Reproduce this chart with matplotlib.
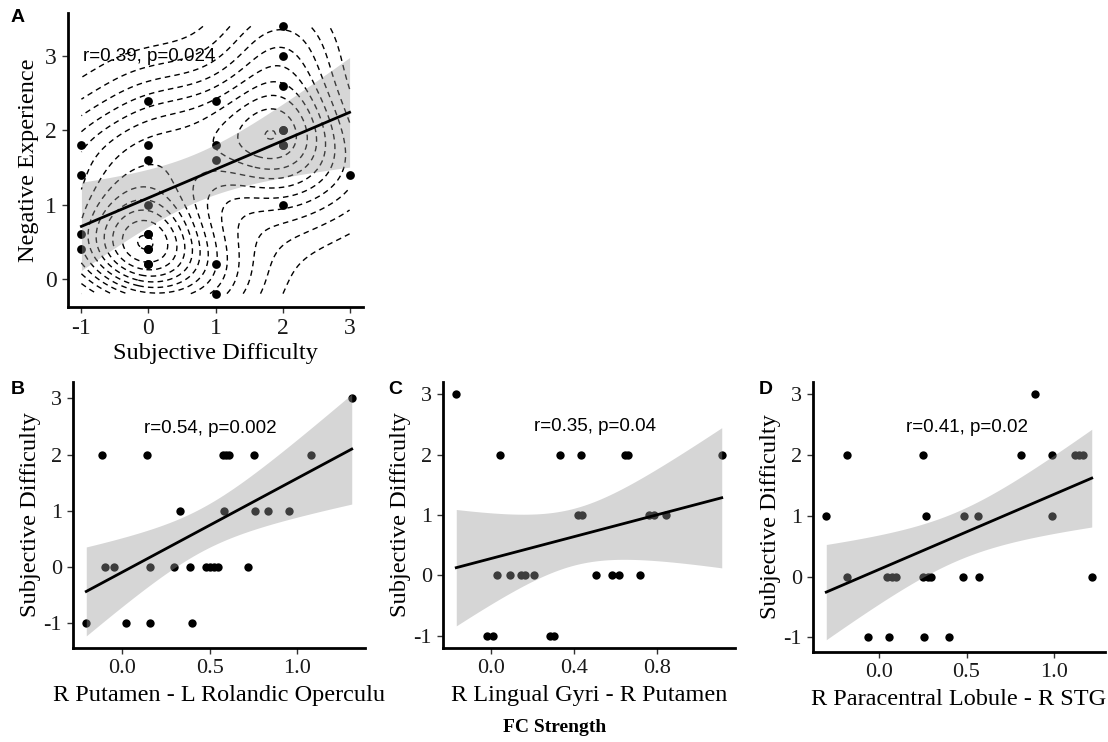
import numpy as np
import matplotlib
matplotlib.use("Agg")
import matplotlib.pyplot as plt
from matplotlib.ticker import MaxNLocator

plt.rcParams["axes.unicode_minus"] = False

# ───── Data ─────────────────────────────────────────────────
# A: subjective difficulty vs negative experience
# (several responses overlap; repeated pairs estimated from the density peaks)
a_x = [-1, -1, -1, -1,
       0, 0, 0, 0, 0, 0, 0, 0, 0, 0,
       1, 1, 1, 1, 1,
       2, 2, 2, 2, 2, 2, 2, 2,
       3]
a_y = [1.8, 1.4, 0.6, 0.4,
       2.4, 1.8, 1.6, 1.0, 0.6, 0.6, 0.4, 0.4, 0.2, 0.2,
       2.4, 1.8, 1.6, 0.2, -0.2,
       3.4, 3.0, 2.6, 2.0, 2.0, 1.8, 1.8, 1.0,
       1.4]

# B: R Putamen - L Rolandic Operculum FC
b_x = [-0.206, -0.114, -0.099, -0.047, 0.019, 0.143, 0.158, 0.158, 0.295,
       0.33, 0.387, 0.396, 0.477, 0.499, 0.524, 0.547, 0.575, 0.581, 0.594,
       0.61, 0.72, 0.753, 0.758, 0.834, 0.953, 1.076, 1.311]
b_y = [-1, 2, 0, 0, -1, 2, 0, -1, 0,
       1, 0, -1, 0, 0, 0, 0, 2, 1, 2,
       2, 0, 2, 1, 1, 1, 2, 3]

# C: R Lingual Gyri - R Putamen FC
c_x = [-0.166, -0.019, 0.013, 0.029, 0.045, 0.092, 0.144, 0.164, 0.209,
       0.284, 0.303, 0.335, 0.42, 0.44, 0.436, 0.508, 0.584, 0.619, 0.648,
       0.659, 0.718, 0.76, 0.787, 0.843, 1.111]
c_y = [3, -1, -1, 0, 2, 0, 0, 0, 0,
       -1, -1, 2, 1, 1, 2, 0, 0, 0, 2,
       2, 0, 1, 1, 1, 2]

# D: R Paracentral Lobule - R STG FC
d_x = [-0.3, -0.184, -0.18, -0.06, 0.044, 0.057, 0.076, 0.1, 0.253, 0.253,
       0.256, 0.271, 0.279, 0.3, 0.398, 0.48, 0.488, 0.563, 0.569, 0.81,
       0.892, 0.987, 0.987, 1.12, 1.144, 1.163, 1.214]
d_y = [1, 2, 0, -1, 0, -1, 0, 0, 2, 0,
       -1, 1, 0, 0, -1, 0, 1, 1, 0, 2,
       3, 2, 1, 2, 2, 2, 0]

labels_stat = ["r=0.39, p=0.024", "r=0.54, p=0.002", "r=0.35, p=0.04", "r=0.41, p=0.02"]
xlabels = ["Subjective Difficulty", "R Putamen - L Rolandic Operculu",
           "R Lingual Gyri - R Putamen", "R Paracentral Lobule - R STG"]
ylabels = ["Negative Experience", "Subjective Difficulty",
           "Subjective Difficulty", "Subjective Difficulty"]
xticks_bcd = [[0.0, 0.5, 1.0], [0.0, 0.4, 0.8], [0.0, 0.5, 1.0]]

SERIF = "Liberation Serif"
SANS = "Liberation Sans"


def t975(df):
    # Cornish-Fisher approximation of the 97.5% t quantile
    z = 1.959964
    return z + (z**3 + z) / (4 * df) + (5 * z**5 + 16 * z**3 + 3 * z) / (96 * df**2)


def lm_band(x, y, n=80):
    x = np.asarray(x, float); y = np.asarray(y, float)
    b1, b0 = np.polyfit(x, y, 1)
    res = y - (b0 + b1 * x)
    s = np.sqrt((res**2).sum() / (len(x) - 2))
    xs = np.linspace(x.min(), x.max(), n)
    se = s * np.sqrt(1 / len(x) + (xs - x.mean())**2 / ((x - x.mean())**2).sum())
    fit = b0 + b1 * xs
    w = t975(len(x) - 2) * se
    return xs, fit, fit - w, fit + w


def kde2d(x, y, n=100):
    x = np.asarray(x, float); y = np.asarray(y, float)
    def nrd(v):
        iqr = np.subtract(*np.percentile(v, [75, 25]))
        return 4 * 1.06 * min(np.std(v, ddof=1), iqr / 1.34) * len(v) ** -0.2
    hx, hy = nrd(x) / 4, nrd(y) / 4
    gx = np.linspace(x.min(), x.max(), n)
    gy = np.linspace(y.min(), y.max(), n)
    ax_ = np.exp(-0.5 * ((gx[:, None] - x[None, :]) / hx) ** 2) / (hx * np.sqrt(2 * np.pi))
    ay_ = np.exp(-0.5 * ((gy[:, None] - y[None, :]) / hy) ** 2) / (hy * np.sqrt(2 * np.pi))
    z = ay_ @ ax_.T / len(x)
    return gx, gy, z


def style_axes(ax, tick_fs):
    for s in ("top", "right"):
        ax.spines[s].set_visible(False)
    for s in ("left", "bottom"):
        ax.spines[s].set_linewidth(2.0)
    ax.tick_params(length=4, width=1, color="#333333", labelsize=tick_fs,
                   labelcolor="#1a1a1a", pad=4)


def panel(ax, x, y, txt, txt_pos, txt_ha, tick_fs, pt_size, contours=False):
    xs, fit, lo, hi = lm_band(x, y)
    ax.scatter(x, y, s=pt_size, color="black", zorder=2, linewidths=0)
    ax.fill_between(xs, lo, hi, color="#999999", alpha=0.4, linewidth=0, zorder=3)
    ax.plot(xs, fit, color="black", lw=2.0, zorder=4)
    ax.text(txt_pos[0], txt_pos[1], txt, ha=txt_ha, va="center",
            fontsize=13.5, family=SANS, color="black", zorder=1)
    if contours:
        gx, gy, z = kde2d(x, y)
        levels = MaxNLocator(nbins=15).tick_values(z.min(), z.max())
        levels = levels[(levels > z.min()) & (levels < z.max())]
        ax.contour(gx, gy, z, levels=levels, colors="black", linewidths=1.0,
                   linestyles=[(0, (4, 3))], zorder=2.5)
    # ggplot-like 5% expansion including the ribbon
    xmin, xmax = min(x), max(x)
    ymin, ymax = min(min(y), lo.min()), max(max(y), hi.max())
    dx, dy = 0.05 * (xmax - xmin), 0.05 * (ymax - ymin)
    ax.set_xlim(xmin - dx, xmax + dx)
    ax.set_ylim(ymin - dy, ymax + dy)
    style_axes(ax, tick_fs)


fig = plt.figure(figsize=(11.08, 7.42), dpi=100)
W, H = 1108, 742


def axes_px(l, r, t, b):
    return fig.add_axes([l / W, 1 - b / H, (r - l) / W, (b - t) / H])


axA = axes_px(68, 363, 13, 307)
axB = axes_px(73, 365, 382, 648)
axC = axes_px(443, 735, 382, 648)
axD = axes_px(813, 1105, 382, 652)

panel(axA, a_x, a_y, labels_stat[0], (-0.98, 3.0), "left", 17, 40, contours=True)
axA.set_xticks([-1, 0, 1, 2, 3])
axA.set_yticks([0, 1, 2, 3])
axA.set_xlabel(xlabels[0], family=SERIF, fontsize=17.5, labelpad=3)
axA.set_ylabel(ylabels[0], family=SERIF, fontsize=17.5, labelpad=4)
for lab in axA.get_xticklabels() + axA.get_yticklabels():
    lab.set_fontfamily(SERIF)

data_bcd = [(b_x, b_y), (c_x, c_y), (d_x, d_y)]
for i, (ax, (x, y)) in enumerate(zip([axB, axC, axD], data_bcd)):
    panel(ax, x, y, labels_stat[i + 1], (0.5, 2.46), "center", 16, 36)
    ax.set_xticks(xticks_bcd[i])
    ax.set_xticklabels([f"{v:.1f}" for v in xticks_bcd[i]])
    ax.set_yticks([-1, 0, 1, 2, 3])
    ax.set_xlabel(xlabels[i + 1], family=SERIF, fontsize=17.5, labelpad=5)
    ax.set_ylabel(ylabels[i + 1], family=SERIF, fontsize=17.5, labelpad=2)
    for lab in ax.get_xticklabels() + ax.get_yticklabels():
        lab.set_fontfamily(SERIF)

for letter, (px, py) in zip("ABCD", [(18, 18), (18, 390), (395, 390), (766, 390)]):
    fig.text(px / W, 1 - py / H, letter, family=SANS, fontweight="bold",
             fontsize=14, ha="center", va="center")

fig.text(555 / W, 1 - 727 / H, "FC Strength", family=SERIF, fontweight="bold",
         fontsize=14, ha="center", va="center")

fig.savefig("out.png", dpi=100)
